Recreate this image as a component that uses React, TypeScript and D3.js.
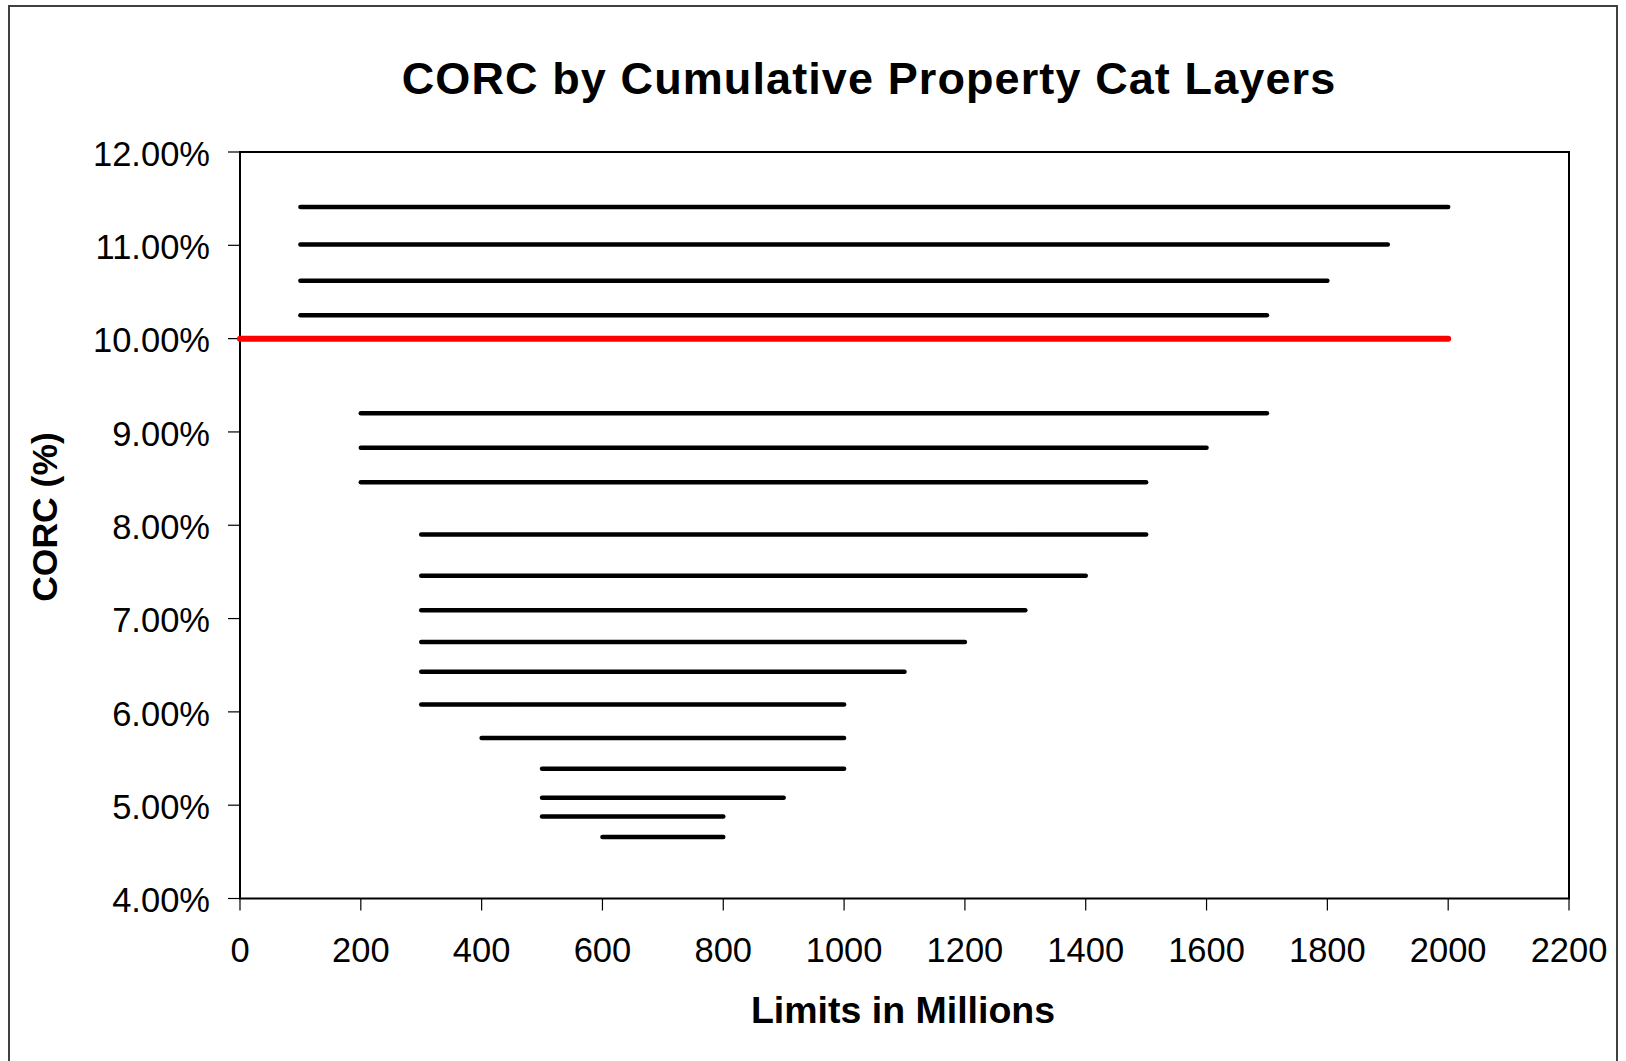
import React from "react";
import * as d3 from "d3";

const layerStarts = [100, 100, 100, 100, 200, 200, 200, 300, 300, 300, 300, 300, 300, 400, 500, 500, 500, 600];
const layerEnds = [2000, 1900, 1800, 1700, 1700, 1600, 1500, 1500, 1400, 1300, 1200, 1100, 1000, 1000, 1000, 900, 800, 800];
const layerCorc = [11.41, 11.01, 10.62, 10.25, 9.2, 8.83, 8.46, 7.9, 7.46, 7.09, 6.75, 6.43, 6.08, 5.72, 5.39, 5.08, 4.88, 4.66];
const targetStart = 0;
const targetEnd = 2000;
const targetCorc = 10.0;
const xTicks = [0, 200, 400, 600, 800, 1000, 1200, 1400, 1600, 1800, 2000, 2200];
const yTicks = [4, 5, 6, 7, 8, 9, 10, 11, 12];

const W = 1626;
const H = 1061;
const plot = { left: 240, right: 1569, top: 152, bottom: 898.5 };
const FONT = "'Liberation Sans', Arial, Helvetica, sans-serif";

export default function App() {
  const x = d3.scaleLinear().domain([0, 2200]).range([plot.left, plot.right]);
  const y = d3.scaleLinear().domain([4, 12]).range([plot.bottom, plot.top]);
  const line = d3.line<[number, number]>().x((d) => x(d[0])).y((d) => y(d[1]));

  return (
    <svg
      width={W}
      height={H}
      style={{ position: "absolute", left: 0, top: 0, background: "#fff" }}
      fontFamily={FONT}
    >
      <rect x={9} y={6} width={1608} height={1100} fill="#fff" stroke="#404040" strokeWidth={2} />
      <text x={869} y={94} textAnchor="middle" fontSize={45} letterSpacing={1.1} fontWeight="bold" fill="#000">
        CORC by Cumulative Property Cat Layers
      </text>
      <rect
        x={plot.left}
        y={plot.top}
        width={plot.right - plot.left}
        height={plot.bottom - plot.top}
        fill="#fff"
        stroke="#000"
        strokeWidth={2}
      />
      {yTicks.map((t) => (
        <g key={"y" + t}>
          <line x1={plot.left - 12} x2={plot.left} y1={y(t)} y2={y(t)} stroke="#000" strokeWidth={1.2} />
          <text x={210} y={y(t)} dy="0.4em" textAnchor="end" fontSize={34.5} fill="#000">
            {d3.format(".2f")(t) + "%"}
          </text>
        </g>
      ))}
      {xTicks.map((t) => (
        <g key={"x" + t}>
          <line x1={x(t)} x2={x(t)} y1={plot.bottom} y2={plot.bottom + 12} stroke="#000" strokeWidth={1.2} />
          <text x={x(t)} y={962} textAnchor="middle" fontSize={34.5} fill="#000">
            {t}
          </text>
        </g>
      ))}
      <text
        transform={`translate(57,517) rotate(-90)`}
        textAnchor="middle"
        fontSize={35.5}
        fontWeight="bold"
        fill="#000"
      >
        CORC (%)
      </text>
      <text x={903} y={1023} textAnchor="middle" fontSize={37.5} fontWeight="bold" fill="#000">
        Limits in Millions
      </text>
      {layerCorc.map((v, i) => (
        <path
          key={"l" + i}
          d={line([
            [layerStarts[i], v],
            [layerEnds[i], v],
          ]) as string}
          stroke="#000"
          strokeWidth={4.5}
          strokeLinecap="round"
          fill="none"
        />
      ))}
      <path
        d={line([
          [targetStart, targetCorc],
          [targetEnd, targetCorc],
        ]) as string}
        stroke="#ff0000"
        strokeWidth={6}
        strokeLinecap="round"
        fill="none"
      />
    </svg>
  );
}
